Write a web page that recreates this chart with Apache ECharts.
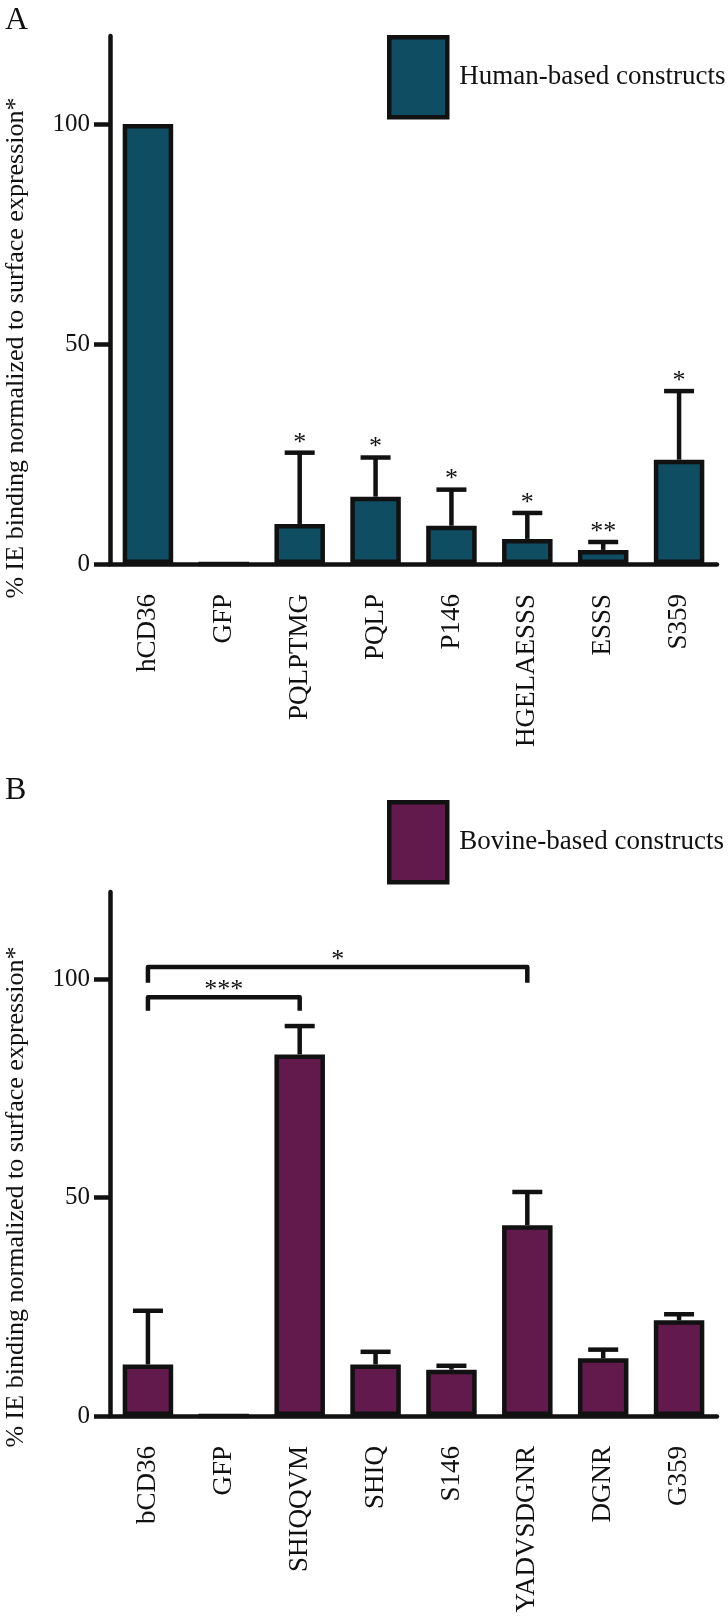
<!DOCTYPE html>
<html>
<head>
<meta charset="utf-8">
<script src="https://cdn.jsdelivr.net/npm/echarts@6/dist/echarts.min.js"></script>
<style>
  html, body { margin: 0; padding: 0; background: #fff; }
  #main { width: 728px; height: 1616px; }
</style>
</head>
<body>
<div id="main"></div>
<script>
// panel A - human constructs
var catsA = ["hCD36", "GFP", "PQLPTMG", "PQLP", "P146", "HGELAESSS", "ESSS", "S359"];
var meanA = [100, 0, 9.1, 15.3, 8.7, 5.7, 3.2, 23.7];
var upperA = [null, null, 25.3, 24.2, 16.9, 11.6, 5.0, 39.3];
var starsA = ["", "", "*", "*", "*", "*", "**", "*"];

// panel B - bovine constructs
var catsB = ["bCD36", "GFP", "SHIQQVM", "SHIQ", "S146", "YADVSDGNR", "DGNR", "G359"];
var meanB = [11.8, 0, 82.8, 11.8, 10.6, 43.7, 13.2, 21.9];
var upperB = [24.1, null, 89.3, 14.7, 11.5, 51.3, 15.2, 23.3];

// significance brackets in panel B
var bracketFrom = [0, 0];
var bracketTo = [2, 5];
var bracketLine = [95.9, 102.8];
var bracketLeg = [92.8, 99.2];
var bracketLabel = ["***", "*"];

var yTicks = [0, 50, 100];

var FONT = "Liberation Serif";
var INK = "#111";
var TEAL = "#0f4d63";
var PLUM = "#621a4c";
var LW = 4.5;

var myChart = echarts.init(document.getElementById("main"));

function xAxisFor(idx, cats) {
  return {
    type: "category",
    gridIndex: idx,
    data: cats,
    axisLine: { lineStyle: { color: INK, width: LW } },
    axisTick: { alignWithLabel: true, length: 18, lineStyle: { color: INK, width: LW } },
    axisLabel: { rotate: 90, interval: 0, margin: 30, fontSize: 27, fontFamily: FONT, color: INK }
  };
}

function yAxisFor(idx) {
  return {
    type: "value",
    gridIndex: idx,
    min: 0,
    max: 120,
    splitLine: { show: false },
    axisLine: { show: true, lineStyle: { color: INK, width: LW } },
    axisTick: { show: true, length: 16, customValues: yTicks, lineStyle: { color: INK, width: LW } },
    axisLabel: { customValues: yTicks, margin: 20, fontSize: 25, fontFamily: FONT, color: INK }
  };
}

// error bar + star
function errorItem(stars) {
  return function (params, api) {
    var i = api.value(0);
    var base = api.coord([i, api.value(1)]);
    var tip = api.coord([i, api.value(2)]);
    var st = { stroke: INK, lineWidth: LW };
    var kids = [
      { type: "line", shape: { x1: base[0], y1: base[1], x2: tip[0], y2: tip[1] }, style: st },
      { type: "line", shape: { x1: tip[0] - 15, y1: tip[1], x2: tip[0] + 15, y2: tip[1] }, style: st }
    ];
    if (stars && stars[i]) {
      kids.push({
        type: "text",
        style: {
          text: stars[i], x: tip[0], y: tip[1] - 10,
          align: "center", verticalAlign: "middle",
          fontSize: 26, fontFamily: FONT, fill: INK
        }
      });
    }
    return { type: "group", children: kids };
  };
}

function errData(mean, upper) {
  var out = [];
  for (var i = 0; i < mean.length; i++) {
    if (upper[i] != null) out.push([i, mean[i], upper[i]]);
  }
  return out;
}

var bracketData = bracketFrom.map(function (f, k) {
  return [f, bracketTo[k], bracketLine[k], bracketLeg[k]];
});

var legendBase = {
  left: 382, icon: "rect", itemWidth: 58, itemHeight: 80,
  itemStyle: { borderColor: INK, borderWidth: LW },
  textStyle: { fontSize: 27, fontFamily: FONT, color: INK, padding: [0, 0, 0, 7] }
};

var option = {
  animation: false,
  backgroundColor: "#fff",
  title: [
    { text: "A", left: 0, top: 0, textStyle: { fontSize: 32, fontWeight: "normal", fontFamily: FONT, color: INK } },
    { text: "B", left: 0, top: 770, textStyle: { fontSize: 32, fontWeight: "normal", fontFamily: FONT, color: INK } }
  ],
  legend: [
    Object.assign({ data: ["Human-based constructs"], top: 30 }, legendBase),
    Object.assign({ data: ["Bovine-based constructs"], top: 795 }, legendBase)
  ],
  grid: [
    { left: 110, top: 36, width: 607, height: 528 },
    { left: 110, top: 892, width: 607, height: 524 }
  ],
  xAxis: [xAxisFor(0, catsA), xAxisFor(1, catsB)],
  yAxis: [yAxisFor(0), yAxisFor(1)],
  graphic: [
    {
      type: "text", x: 16, y: 348, rotation: Math.PI / 2,
      style: { text: "% IE binding normalized to surface expression*", fontSize: 26, fontFamily: FONT, fill: INK, align: "center", verticalAlign: "middle" }
    },
    {
      type: "text", x: 16, y: 1197, rotation: Math.PI / 2,
      style: { text: "% IE binding normalized to surface expression*", fontSize: 26, fontFamily: FONT, fill: INK, align: "center", verticalAlign: "middle" }
    }
  ],
  series: [
    {
      name: "Human-based constructs", type: "bar", xAxisIndex: 0, yAxisIndex: 0,
      data: meanA, barWidth: 50.5,
      itemStyle: { color: TEAL, borderColor: INK, borderWidth: LW }
    },
    {
      type: "custom", xAxisIndex: 0, yAxisIndex: 0, z: 5,
      data: errData(meanA, upperA), renderItem: errorItem(starsA)
    },
    {
      name: "Bovine-based constructs", type: "bar", xAxisIndex: 1, yAxisIndex: 1,
      data: meanB, barWidth: 50.5,
      itemStyle: { color: PLUM, borderColor: INK, borderWidth: LW }
    },
    {
      type: "custom", xAxisIndex: 1, yAxisIndex: 1, z: 5,
      data: errData(meanB, upperB), renderItem: errorItem(null)
    },
    {
      type: "custom", xAxisIndex: 1, yAxisIndex: 1, z: 5,
      data: bracketData,
      renderItem: function (params, api) {
        var a = api.coord([api.value(0), api.value(3)]);
        var b = api.coord([api.value(0), api.value(2)]);
        var c = api.coord([api.value(1), api.value(2)]);
        var d = api.coord([api.value(1), api.value(3)]);
        return {
          type: "group",
          children: [
            { type: "polyline", shape: { points: [a, b, c, d] }, style: { stroke: INK, lineWidth: LW, fill: null, lineJoin: "round" } },
            {
              type: "text",
              style: {
                text: bracketLabel[params.dataIndex], x: (b[0] + c[0]) / 2, y: b[1] - 7,
                align: "center", verticalAlign: "middle", fontSize: 26, fontFamily: FONT, fill: INK
              }
            }
          ]
        };
      }
    }
  ]
};

myChart.setOption(option);
</script>
</body>
</html>
